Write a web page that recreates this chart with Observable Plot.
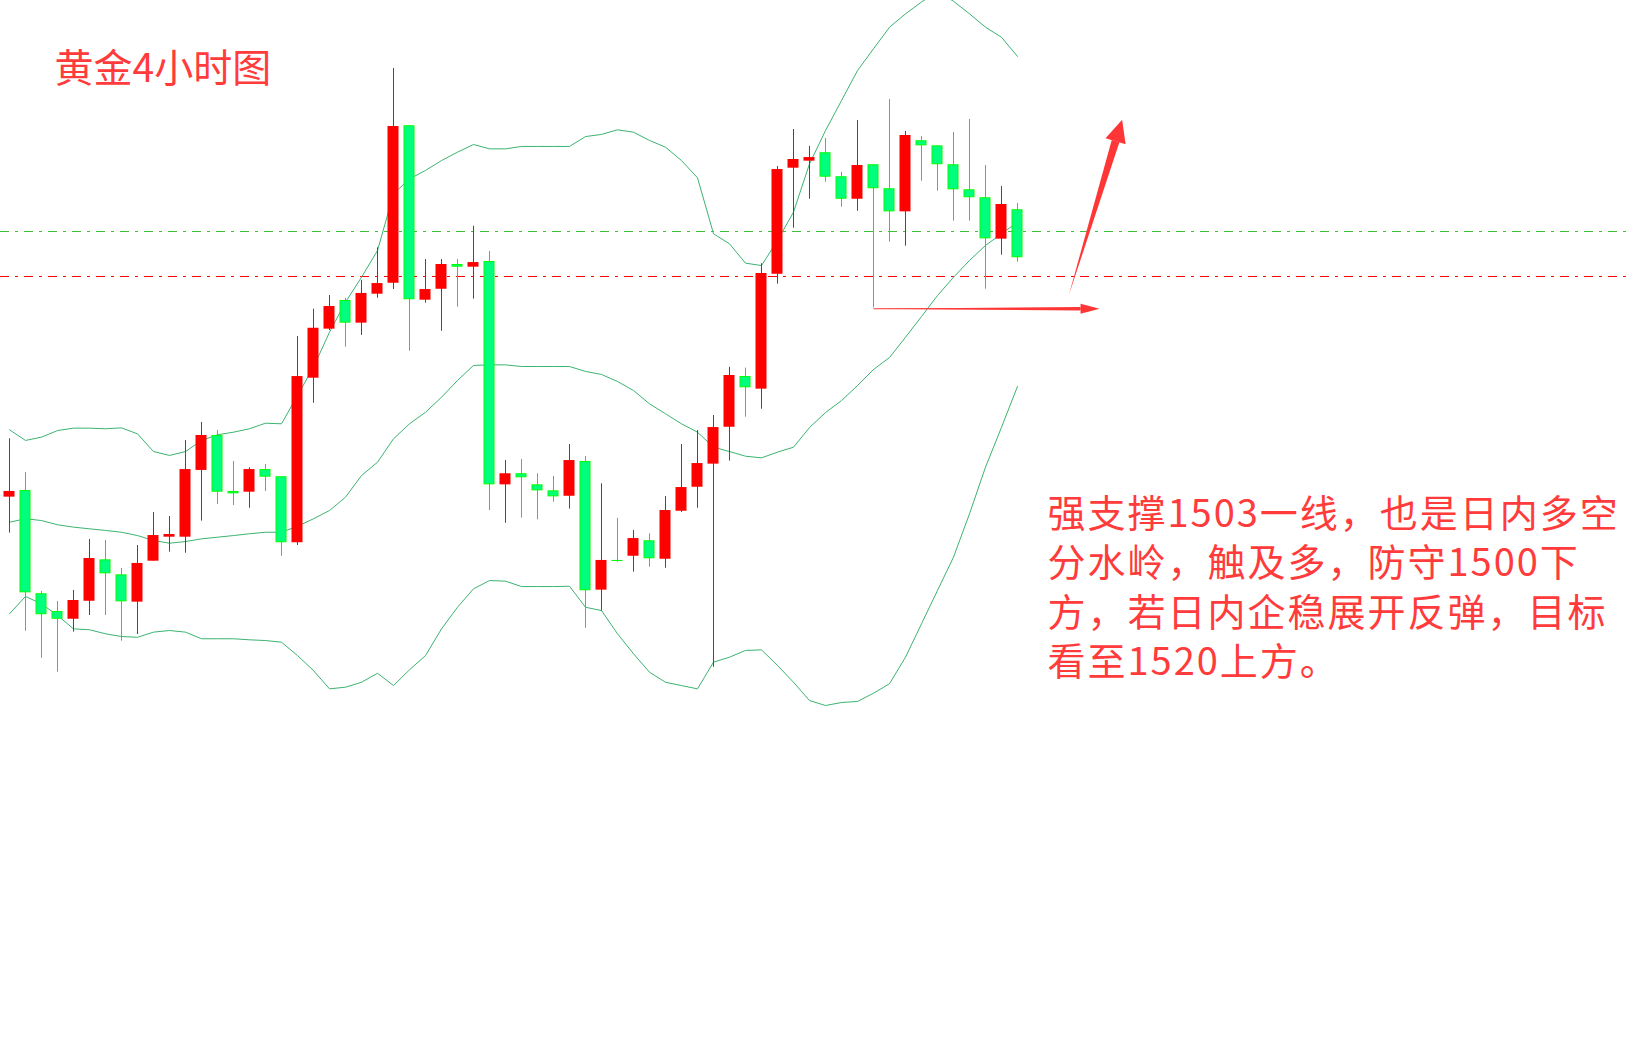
<!DOCTYPE html>
<html><head><meta charset="utf-8">
<script src="https://cdn.jsdelivr.net/npm/d3@7"></script>
<script src="https://cdn.jsdelivr.net/npm/@observablehq/plot@0.6"></script>
<style>html,body{margin:0;padding:0;background:#fff;overflow:hidden}#chart svg{display:block}</style>
</head><body><div id="chart"></div>
<script>
// Gold 4H candles (price), index 0..63
const open = [1485.29,1485.73,1478.85,1477.67,1477.15,1478.35,1481.11,1480.11,1478.29,1481.02,
1482.62,1482.62,1487.07,1489.4,1485.67,1485.62,1487.13,1486.65,1482.25,1493.22,
1496.49,1498.4,1496.89,1498.82,1499.55,1510.05,1498.42,1499.15,1500.8,1500.62,
1501.0,1486.11,1486.85,1486.11,1485.71,1485.35,1487.67,1479.09,1481.07,1481.35,
1482.38,1481.15,1484.35,1485.95,1487.49,1489.95,1493.33,1492.49,1500.15,1507.22,
1507.69,1508.25,1506.65,1505.15,1507.45,1505.85,1504.31,1509.05,1508.71,1507.45,
1505.78,1505.25,1502.49,1504.45];
const high = [1489.18,1486.93,1479.0,1478.33,1479.07,1482.47,1482.4,1480.53,1482.07,1484.27,
1484.0,1489.07,1490.27,1489.73,1487.67,1487.25,1487.47,1486.65,1496.0,1497.82,
1498.73,1498.55,1499.73,1501.91,1513.87,1510.05,1501.13,1501.13,1501.13,1503.35,
1501.67,1487.73,1487.8,1486.85,1486.67,1488.8,1488.0,1486.18,1483.87,1483.07,
1482.85,1485.33,1488.8,1489.73,1490.73,1493.95,1493.89,1500.85,1507.33,1509.8,
1508.67,1509.2,1506.95,1510.4,1507.47,1511.8,1509.67,1509.33,1508.71,1509.6,
1510.47,1507.4,1506.0,1504.87];
const low = [1482.89,1476.35,1474.55,1473.62,1476.29,1477.4,1477.4,1475.69,1476.13,1481.02,
1481.62,1481.55,1483.69,1484.8,1484.73,1484.55,1485.67,1481.35,1482.07,1491.55,
1496.4,1495.29,1496.07,1498.55,1499.13,1495.02,1498.22,1496.35,1497.95,1498.49,
1484.4,1483.55,1483.89,1483.78,1484.95,1484.49,1476.55,1477.69,1480.95,1480.29,
1480.62,1480.55,1484.27,1484.55,1473.95,1487.69,1490.62,1491.15,1499.49,1503.22,
1505.15,1506.29,1504.62,1504.35,1497.91,1502.29,1502.02,1506.35,1505.69,1503.69,
1503.69,1499.15,1501.42,1500.95];
const close = [1485.67,1478.91,1477.45,1477.15,1478.4,1481.2,1480.18,1478.31,1480.87,1482.73,
1482.8,1487.13,1489.4,1485.62,1485.51,1487.13,1486.62,1482.25,1493.33,1496.55,
1498.0,1496.89,1498.87,1499.53,1510.0,1498.45,1499.13,1500.8,1500.62,1500.93,
1486.11,1486.85,1486.58,1485.71,1485.31,1487.73,1479.05,1481.07,1481.0,1482.53,
1481.18,1484.4,1485.93,1487.53,1489.93,1493.4,1492.58,1500.2,1507.13,1507.8,
1507.93,1506.62,1505.15,1507.4,1505.85,1504.31,1509.4,1508.71,1507.45,1505.78,
1505.25,1502.51,1504.8,1501.25];

// Bollinger bands
const upper = [1489.78,1489.07,1489.29,1489.73,1489.89,1489.89,1489.85,1489.91,1489.51,1488.33,
1488.07,1488.33,1489.07,1489.45,1489.62,1489.85,1490.22,1490.18,1492.07,1493.95,
1496.29,1498.29,1499.95,1501.73,1505.51,1506.51,1507.07,1507.73,1508.29,1508.8,
1508.51,1508.51,1508.67,1508.67,1508.67,1508.67,1509.33,1509.47,1509.78,1509.62,
1509.07,1508.62,1507.73,1506.58,1502.85,1502.18,1500.89,1500.73,1502.4,1504.29,
1507.51,1509.73,1511.73,1513.73,1515.18,1516.62,1517.51,1518.3,1519.0,1518.35,
1517.51,1516.62,1515.95,1514.67];
const middle = [1483.62,1483.85,1483.73,1483.45,1483.29,1483.18,1483.07,1482.95,1482.73,1482.4,
1482.22,1482.33,1482.51,1482.62,1482.73,1482.85,1482.95,1482.95,1483.35,1483.85,
1484.4,1485.29,1486.73,1487.62,1489.18,1490.18,1490.95,1491.95,1493.07,1494.07,
1494.11,1494.11,1494.0,1494.0,1494.0,1494.0,1493.67,1493.47,1493.0,1492.4,
1491.51,1490.85,1490.18,1489.62,1488.62,1488.33,1488.02,1487.91,1488.29,1488.62,
1489.93,1490.93,1491.73,1492.73,1493.8,1494.6,1495.95,1497.33,1498.73,1499.95,
1501.07,1502.07,1502.85,1503.62];
const lower = [1477.51,1478.67,1478.18,1477.4,1476.51,1476.45,1476.18,1476.0,1475.95,1476.29,
1476.4,1476.29,1475.85,1475.85,1475.85,1475.78,1475.73,1475.62,1474.73,1473.73,
1472.51,1472.62,1472.95,1473.55,1472.73,1473.78,1474.73,1476.51,1477.95,1479.18,
1479.73,1479.69,1479.33,1479.33,1479.33,1479.35,1477.95,1477.73,1476.18,1474.85,
1473.62,1472.95,1472.73,1472.51,1474.29,1474.62,1475.07,1475.11,1474.07,1472.95,
1471.73,1471.4,1471.6,1471.67,1472.22,1472.85,1474.62,1476.85,1479.07,1481.29,
1484.18,1487.29,1489.95,1492.67];

// Levels & annotation
const supportLevel = 1503;
const defenseLevel = 1500;
const title = "黄金4小时图";
const note = "强支撑1503一线，也是日内多空\n分水岭，触及多，防守1500下\n方，若日内企稳展开反弹，目标\n看至1520上方。";
// arrows: anchor point (candle index, price) at base of arrow head
const hArrow = {i: 66.94, p: 1497.85, tailI: 54, tailP: 1497.85};
const dArrow = {i: 69.13, p: 1509.02};

const candles = open.map((o, i) => ({i, open: o, high: high[i], low: low[i], close: close[i], up: close[i] >= o}));
const bands = upper.map((u, i) => ({i, upper: u, middle: middle[i], lower: lower[i]}));
const ups = candles.filter(d => d.up), downs = candles.filter(d => !d.up);
const hw = 5.5 / 16;
const RED = "#ff0000", GREEN_WICK = "#22dd22", BAND = "#3cb371", ARROW = "#ff3636", TEXT = "#ff3b3b";
const DASH = "9,6,3,6";

const chart = Plot.plot({
  width: 1632, height: 1047, margin: 0,
  x: {domain: [-0.5625, 101.4375], axis: null},
  y: {domain: [1448.6, 1518.4], axis: null},
  style: {background: "white", fontFamily: "'Noto Sans CJK SC', sans-serif"},
  marks: [
    Plot.ruleY([supportLevel], {stroke: "#3cbf3c", strokeWidth: 1.2, strokeDasharray: DASH}),
    Plot.ruleY([defenseLevel], {stroke: "#ff0000", strokeWidth: 1.2, strokeDasharray: DASH}),
    Plot.line(bands, {x: "i", y: "upper", stroke: BAND, strokeWidth: 1, clip: true}),
    Plot.line(bands, {x: "i", y: "middle", stroke: BAND, strokeWidth: 1, clip: true}),
    Plot.line(bands, {x: "i", y: "lower", stroke: BAND, strokeWidth: 1, clip: true}),
    Plot.ruleX(ups, {x: "i", y1: "low", y2: "high", stroke: RED, strokeWidth: 1}),
    Plot.ruleX(downs, {x: "i", y1: "low", y2: "high", stroke: GREEN_WICK, strokeWidth: 1}),
    Plot.rect(ups, {x1: d => d.i - hw, x2: d => d.i + hw, y1: "open", y2: "close", fill: RED}),
    Plot.rect(downs, {x1: d => d.i - hw, x2: d => d.i + hw, y1: "open", y2: "close", fill: "#00ff7f", stroke: "#00ff00", strokeWidth: 1, inset: 0.5}),
    // horizontal arrow
    Plot.link([hArrow], {x1: "tailI", y1: "tailP", x2: "i", y2: "p", stroke: ARROW, strokeWidth: 1.2}),
    Plot.vector([hArrow], {x: "i", y: "p", length: 207, rotate: 270, shape: "spike", r: 1.7, anchor: "start", fill: ARROW, stroke: "none"}),
    Plot.vector([hArrow], {x: "i", y: "p", length: 19, rotate: 90, shape: "spike", r: 5, anchor: "start", fill: ARROW, stroke: "none"}),
    // diagonal arrow
    Plot.vector([dArrow], {x: "i", y: "p", length: 161, rotate: 196.9, shape: "spike", r: 4, anchor: "start", fill: ARROW, stroke: "none"}),
    Plot.vector([dArrow], {x: "i", y: "p", length: 22.5, rotate: 16.9, shape: "spike", r: 10.5, anchor: "start", fill: ARROW, stroke: "none"}),
    // texts
    Plot.text([title], {text: d => d, frameAnchor: "top-left", textAnchor: "start", lineAnchor: "top", dx: 54, dy: 54, fontSize: 39, fill: TEXT}),
    Plot.text([note], {text: d => d, frameAnchor: "top-left", textAnchor: "start", lineAnchor: "top", dx: 1047, dy: 491, fontSize: 38, lineHeight: 1.303, fill: TEXT})
  ]
});
const textGroups = chart.querySelectorAll('g[aria-label="text"]');
textGroups[textGroups.length - 1].setAttribute("letter-spacing", "2");
document.getElementById("chart").appendChild(chart);
</script>
</body></html>
